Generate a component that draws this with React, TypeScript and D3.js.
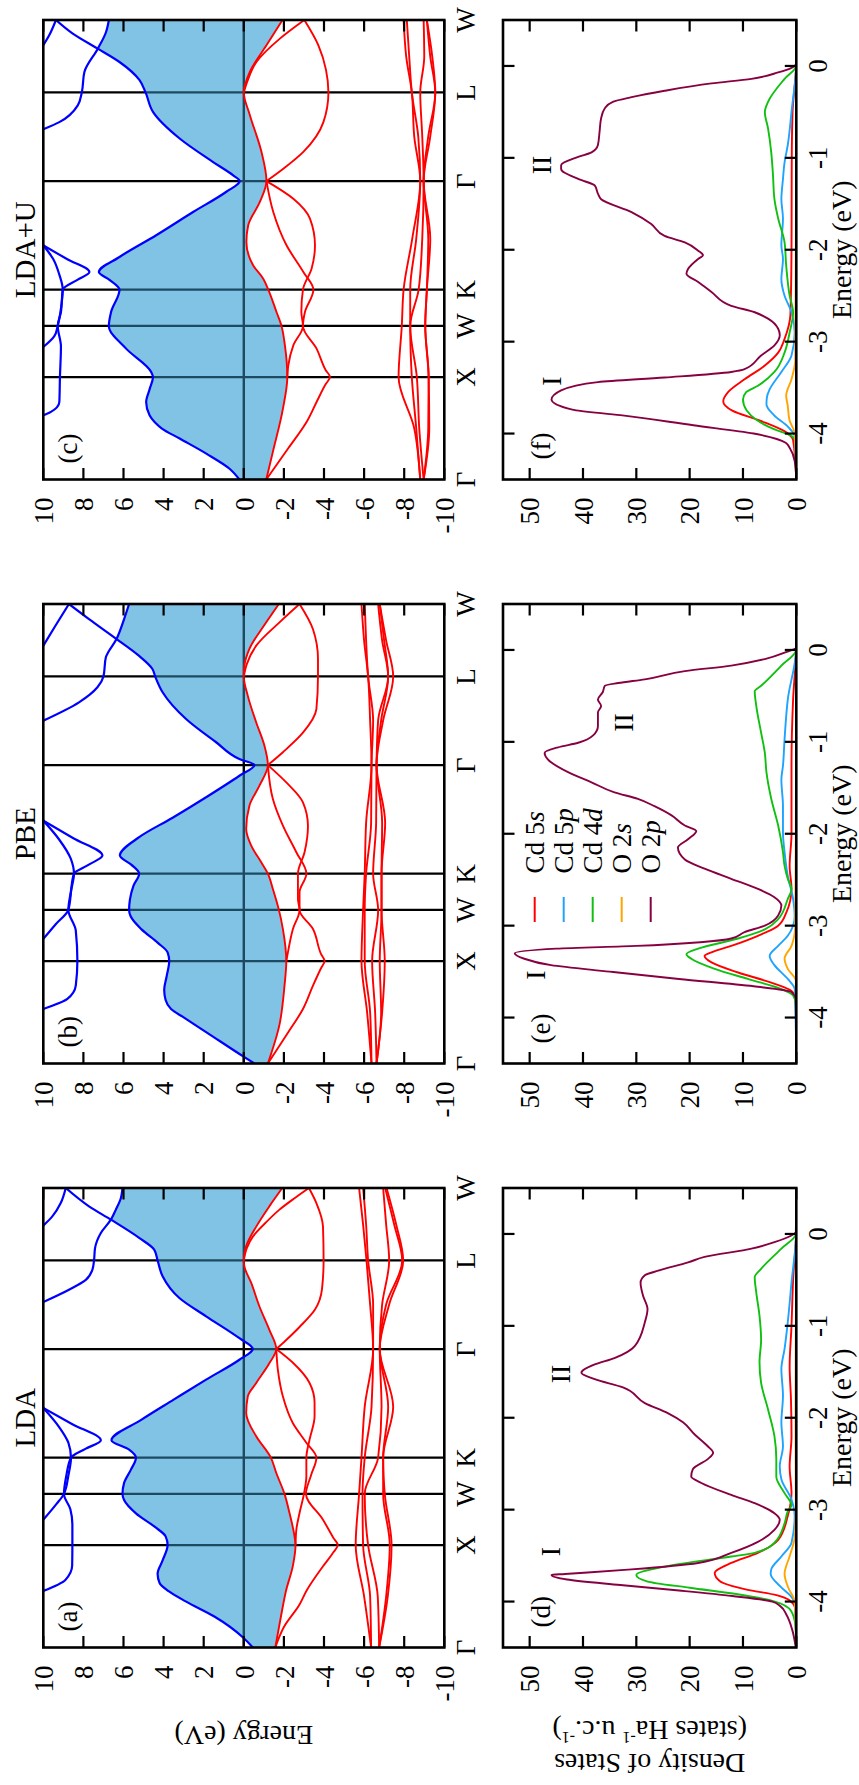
import React from 'react';
import * as d3 from 'd3';

type Pt = [number, number];

// ---------- axes, labels ----------
const kPath = [0, 1, 1.5, 1.854, 2.914, 3.78, 4.487];
const kLabels = ['Γ', 'X', 'W', 'K', 'Γ', 'L', 'W'];
const bandTicks = [10, 8, 6, 4, 2, 0, -2, -4, -6, -8, -10];
const dosTicks = [0, 10, 20, 30, 40, 50];
const dosEnergyTicks = [-4, -3, -2, -1, 0];
const methods = ['LDA', 'PBE', 'LDA+U'];
const bandTags = ['(a)', '(b)', '(c)'];
const dosTags = ['(d)', '(e)', '(f)'];
const orbitalNames = [['Cd 5', 's'], ['Cd 5', 'p'], ['Cd 4', 'd'], ['O 2', 's'], ['O 2', 'p']];
const orbitalColors = ['#ff0000', '#1ea3ff', '#10c010', '#ffa500', '#870042'];
const dKnots = [0, 0.5, 1, 1.5, 1.854, 2.35, 2.914, 3.35, 3.78, 4.13, 4.487];

// ---------- LDA bands ----------
const ldaCbA: Pt[] = [[0,-0.45],[0.1,0.05],[0.3,1.45],[0.45,2.9],[0.55,3.75],[0.63,4.2],[0.72,4.3],[0.85,4.05],[1,3.8],[1.085,3.9],[1.18,4.45],[1.31,5.38],[1.44,5.97],[1.5,6.05],[1.607,5.97],[1.737,5.63],[1.854,5.38],[1.932,5.72],[2.023,6.6],[2.225,5.1],[2.42,3.5],[2.616,1.88],[2.81,0.22],[2.914,-0.45],[3.02,0.22],[3.234,1.88],[3.41,3.2],[3.625,4.05],[3.78,4.3],[3.885,4.47],[4.0,5.22],[4.178,6.63],[4.308,7.72],[4.487,8.88]];
const ldaCbB: Pt[] = [[3.374,10],[3.494,8.72],[3.59,7.88],[3.69,7.55],[3.78,7.47],[3.9,7.42],[4.048,7.13],[4.178,6.63],[4.276,6.38],[4.39,6.13],[4.487,6.05]];
const ldaCbC: Pt[] = [[4.12,10],[4.21,9.55],[4.34,9.13],[4.487,8.88]];
const ldaCbD1: Pt[] = [[0.553,10],[0.66,8.9],[0.8,8.56],[1,8.55],[1.2,8.55],[1.35,8.65],[1.5,8.97],[1.68,8.85],[1.854,8.62],[1.94,7.9],[2.023,7.13],[2.18,8.55],[2.339,10]];
const ldaCbD2: Pt[] = [[1.248,10],[1.4,9.35],[1.5,8.97],[1.68,8.75],[1.854,8.62],[2.0,8.75],[2.15,9.2],[2.339,10]];
const ldaVbTop: Pt[] = [[0,-1.57],[0.3,-1.85],[0.55,-2.1],[0.8,-2.45],[1,-2.58],[1.085,-2.53],[1.313,-2.28],[1.5,-2.03],[1.704,-1.62],[1.854,-1.35],[2.062,-0.62],[2.29,-0.12],[2.453,-0.2],[2.583,-0.62],[2.778,-1.28],[2.914,-1.62],[3.1,-1.28],[3.33,-0.78],[3.56,-0.37],[3.72,-0.03],[3.78,0],[3.92,-0.12],[4.11,-0.62],[4.31,-1.28],[4.487,-1.92]];
const ldaVbTop2: Pt[] = [[3.78,0],[3.9,-0.15],[4.012,-0.45],[4.15,-1.1],[4.276,-1.78],[4.39,-2.55],[4.487,-3.25]];
const ldaVbS: Pt[] = [[2.914,-1.62],[3.0,-2.1],[3.13,-2.78],[3.3,-3.55],[3.5,-3.9],[3.78,-3.98],[4.11,-3.95],[4.34,-3.62],[4.487,-3.25]];
const ldaVb2: Pt[] = [[1,-2.58],[1.15,-2.62],[1.313,-2.78],[1.5,-3.0],[1.672,-3.12],[1.854,-3.12],[2.03,-3.28],[2.258,-3.53],[2.39,-3.53],[2.583,-3.28],[2.78,-2.45],[2.914,-1.62]];
const ldaVb3: Pt[] = [[0,-1.57],[0.2,-2.0],[0.42,-2.78],[0.552,-3.12],[0.793,-3.95],[0.93,-4.47],[1,-4.69],[1.07,-4.47],[1.248,-3.95],[1.5,-3.1],[1.68,-3.35],[1.854,-3.62],[2.0,-3.12],[2.19,-2.45],[2.45,-1.95],[2.71,-1.7],[2.914,-1.62]];
const ldaDBands = [
  [-6.35,-6.0,-5.58,-5.75,-5.87,-6.03,-6.45,-6.3,-6.12,-5.95,-5.75],
  [-6.35,-6.3,-5.95,-5.92,-6.03,-6.37,-6.45,-6.45,-6.2,-6.1,-5.95],
  [-6.75,-6.68,-6.2,-6.03,-6.7,-6.87,-6.78,-6.9,-7.25,-7.1,-6.95],
  [-6.75,-7.1,-7.28,-6.95,-6.95,-7.2,-6.78,-7.1,-7.9,-7.5,-7.05],
  [-6.75,-7.18,-7.37,-7.03,-6.95,-7.45,-6.78,-7.25,-7.95,-7.6,-7.12],
];

// ---------- PBE bands ----------
const pbeCbA: Pt[] = [[0,-0.53],[0.062,-0.03],[0.307,1.88],[0.45,3.0],[0.532,3.63],[0.62,3.9],[0.72,3.97],[0.85,3.85],[1,3.72],[1.085,3.8],[1.18,4.3],[1.31,5.1],[1.44,5.65],[1.5,5.72],[1.6,5.68],[1.737,5.5],[1.854,5.22],[1.94,5.6],[2.03,6.18],[2.21,5.22],[2.4,3.55],[2.6,1.88],[2.81,0.22],[2.914,-0.53],[2.973,0.22],[3.137,1.38],[3.364,2.88],[3.625,4.05],[3.78,4.42],[3.85,4.55],[3.98,5.22],[4.15,6.38],[4.34,7.72],[4.487,8.72]];
const pbeCbB: Pt[] = [[3.348,10],[3.527,8.22],[3.674,7.3],[3.78,7.0],[3.966,6.88],[4.145,6.35],[4.34,5.97],[4.487,5.72]];
const pbeCbC: Pt[] = [[4.08,10],[4.28,9.38],[4.487,8.72]];
const pbeCbD1: Pt[] = [[0.532,10],[0.63,8.8],[0.76,8.38],[1,8.3],[1.3,8.38],[1.5,8.75],[1.672,8.63],[1.854,8.47],[1.94,7.75],[2.03,7.05],[2.2,8.5],[2.372,10]];
const pbeCbD2: Pt[] = [[1.216,10],[1.36,9.38],[1.5,8.75],[1.7,8.6],[1.854,8.47],[2.0,8.63],[2.19,9.22],[2.372,10]];
const pbeVbTop: Pt[] = [[0,-1.2],[0.38,-1.78],[0.76,-2.03],[1,-2.12],[1.313,-1.95],[1.5,-1.75],[1.704,-1.45],[1.854,-1.2],[1.965,-0.87],[2.127,-0.37],[2.29,-0.12],[2.518,-0.28],[2.713,-0.78],[2.914,-1.2],[3.102,-1.03],[3.33,-0.62],[3.59,-0.2],[3.78,0],[3.885,-0.03],[4.048,-0.28],[4.308,-1.12],[4.487,-1.75]];
const pbeVbTop2: Pt[] = [[3.78,0],[3.9,-0.15],[4.08,-0.62],[4.308,-1.78],[4.487,-2.78]];
const pbeVbS: Pt[] = [[2.914,-1.2],[3.04,-1.95],[3.23,-2.95],[3.46,-3.62],[3.78,-3.7],[3.95,-3.7],[4.24,-3.45],[4.487,-2.78]];
const pbeVb2: Pt[] = [[1,-2.12],[1.085,-2.2],[1.313,-2.45],[1.5,-2.78],[1.606,-2.7],[1.854,-2.7],[2.063,-3.03],[2.32,-3.2],[2.55,-2.95],[2.745,-2.12],[2.914,-1.2]];
const pbeVb3: Pt[] = [[0,-1.2],[0.3,-2.2],[0.532,-2.95],[0.76,-3.45],[0.93,-3.85],[1,-4.03],[1.07,-3.85],[1.313,-3.45],[1.5,-2.78],[1.672,-2.78],[1.854,-3.12],[2.063,-2.62],[2.323,-1.95],[2.583,-1.45],[2.914,-1.2]];
const pbeDBands = [
  [-6.37,-6.15,-5.87,-5.95,-6.03,-6.1,-6.37,-6.3,-6.2,-6.0,-5.87],
  [-6.37,-6.3,-6.03,-6.03,-6.1,-6.35,-6.37,-6.45,-6.2,-6.1,-6.03],
  [-6.62,-6.55,-6.4,-6.7,-6.45,-6.6,-6.62,-6.7,-7.2,-6.9,-6.7],
  [-6.62,-6.85,-6.78,-6.87,-6.87,-6.9,-6.62,-6.85,-7.2,-7.0,-6.78],
  [-6.62,-6.9,-7.03,-6.87,-6.87,-7.05,-6.62,-6.95,-7.45,-7.1,-6.78],
];

// ---------- LDA+U bands ----------
const luCbA: Pt[] = [[0,0.22],[0.105,0.71],[0.25,1.85],[0.4,3.2],[0.5,4.1],[0.561,4.45],[0.627,4.7],[0.757,4.87],[0.88,4.7],[1,4.53],[1.05,4.62],[1.278,5.87],[1.5,6.73],[1.636,6.62],[1.854,6.2],[1.95,6.7],[2.026,7.23],[2.173,6.2],[2.385,4.37],[2.612,2.53],[2.81,0.87],[2.914,0.2],[2.97,0.53],[3.1,1.53],[3.33,3.2],[3.59,4.53],[3.78,4.9],[3.9,5.2],[4.077,6.2],[4.207,7.28],[4.354,8.53],[4.487,9.37]];
const luCbB: Pt[] = [[3.42,10],[3.49,9.2],[3.654,8.28],[3.78,8.08],[3.98,7.95],[4.207,7.28],[4.37,6.87],[4.487,6.73]];
const luCbC: Pt[] = [[4.24,10],[4.34,9.7],[4.487,9.37]];
const luCbD1: Pt[] = [[0.627,10],[0.66,9.62],[0.757,9.2],[1,9.17],[1.3,9.12],[1.5,9.28],[1.636,9.12],[1.854,9.03],[1.95,8.3],[2.026,7.7],[2.15,8.8],[2.287,10]];
const luCbD2: Pt[] = [[1.294,10],[1.4,9.45],[1.5,9.28],[1.7,9.1],[1.854,9.03],[2.0,9.2],[2.15,9.5],[2.287,10]];
const luVbTop: Pt[] = [[0,-1.12],[0.27,-1.45],[0.69,-1.95],[1,-2.17],[1.31,-2.05],[1.5,-1.88],[1.636,-1.63],[1.854,-1.22],[1.96,-0.97],[2.09,-0.47],[2.32,-0.13],[2.482,-0.22],[2.71,-0.8],[2.914,-1.13],[3.2,-0.88],[3.56,-0.3],[3.78,0],[3.98,-0.3],[4.24,-1.13],[4.487,-1.93]];
const luVbTop2: Pt[] = [[3.78,0],[3.9,-0.2],[4.077,-0.63],[4.305,-1.8],[4.487,-3.02]];
const luVbS: Pt[] = [[2.914,-1.13],[3.035,-1.97],[3.2,-2.97],[3.49,-3.97],[3.78,-4.22],[4.0,-4.1],[4.24,-3.72],[4.487,-3.02]];
const luVb2: Pt[] = [[1,-2.17],[1.115,-2.22],[1.31,-2.47],[1.5,-2.95],[1.636,-2.87],[1.854,-2.95],[2.059,-3.38],[2.287,-3.55],[2.547,-3.3],[2.742,-2.47],[2.914,-1.13]];
const luVb3: Pt[] = [[0,-1.12],[0.3,-2.2],[0.561,-3.13],[0.757,-3.63],[0.93,-4.08],[1,-4.3],[1.07,-4.08],[1.278,-3.63],[1.5,-2.95],[1.636,-3.05],[1.854,-3.47],[2.026,-2.97],[2.287,-2.13],[2.612,-1.47],[2.914,-1.13]];
const luDBands = [
  [-8.8,-8.5,-7.72,-7.88,-7.97,-8.4,-8.8,-8.5,-8.38,-8.1,-7.97],
  [-8.8,-8.6,-8.38,-8.3,-8.3,-8.6,-8.8,-8.7,-8.38,-8.25,-8.13],
  [-8.97,-8.75,-8.63,-8.3,-8.72,-8.9,-8.97,-8.9,-8.8,-9.0,-8.97],
  [-8.97,-9.2,-9.22,-9.05,-9.13,-9.2,-8.97,-9.2,-9.55,-9.3,-9.13],
  [-8.97,-9.25,-9.22,-9.05,-9.13,-9.3,-8.97,-9.3,-9.55,-9.4,-9.13],
];

// ---------- DOS (energy eV, states) ----------
const ldaCd5s: Pt[] = [[-4.5,0],[-4.07,0.25],[-3.99,1.2],[-3.93,3.7],[-3.87,9.3],[-3.78,14.3],[-3.69,15.3],[-3.58,12.2],[-3.47,7.2],[-3.33,3.4],[-3.07,1.6],[-2.82,0.9],[-2.53,1.25],[-2.2,0.9],[-1.8,1.0],[-1.44,1.25],[-1.0,0.9],[-0.5,0.6],[0,0.05],[0.5,0]];
const ldaCd5p: Pt[] = [[-4.5,0],[-4.03,0.25],[-3.95,0.9],[-3.83,3.1],[-3.7,4.8],[-3.65,4.7],[-3.51,2.8],[-3.36,0.9],[-3.07,0.3],[-2.89,0.9],[-2.67,2.8],[-2.53,3.1],[-2.31,2.5],[-2.05,2.8],[-1.76,2.5],[-1.47,2.8],[-1.25,2.2],[-0.96,1.6],[-0.53,0.9],[0,0.05],[0.5,0]];
const ldaCd4d: Pt[] = [[-4.5,0],[-4.25,0.2],[-4.1,1],[-4.0,4],[-3.92,11],[-3.85,20],[-3.78,28],[-3.71,30],[-3.62,24.7],[-3.51,12.2],[-3.47,7.8],[-3.36,4.1],[-3.15,2.2],[-3.02,1.6],[-2.95,0.9],[-2.82,2.2],[-2.64,3.75],[-2.45,3.75],[-2.2,4.1],[-1.91,5.3],[-1.62,6.6],[-1.4,6.9],[-1.15,6.6],[-0.89,6.9],[-0.64,7.5],[-0.47,7.8],[-0.38,6.6],[-0.16,2.8],[0,0.1],[0.5,0]];
const ldaO2s: Pt[] = [[-4.5,0],[-4.0,0.3],[-3.85,1.5],[-3.7,2.2],[-3.5,1.2],[-3.3,0.3],[-3.0,0.1],[-2,0.15],[-1,0.1],[0,0],[0.5,0]];
const ldaO2p: Pt[] = [[-4.5,0.1],[-4.3,0.8],[-4.15,1.8],[-4.05,3],[-4.0,4.5],[-3.94,12],[-3.88,22],[-3.82,33],[-3.76,43],[-3.71,45.9],[-3.7,43.4],[-3.65,30.9],[-3.58,18.4],[-3.47,12.2],[-3.35,7.2],[-3.22,4.1],[-3.11,3.1],[-3.04,4.1],[-2.93,7.8],[-2.84,12.2],[-2.71,17.8],[-2.64,19.7],[-2.56,19.4],[-2.45,16.6],[-2.38,15.6],[-2.31,16.6],[-2.18,19.1],[-2.05,21.25],[-1.95,24.1],[-1.84,28.4],[-1.67,32.5],[-1.58,37.8],[-1.51,40.3],[-1.42,37.8],[-1.35,34.1],[-1.22,30.3],[-0.96,28.4],[-0.82,27.9],[-0.67,28.75],[-0.53,29.2],[-0.45,28.4],[-0.4,25.9],[-0.31,20.3],[-0.25,17.2],[-0.16,8.4],[-0.09,4.1],[-0.02,1.0],[0.03,0],[0.5,0]];

const pbeCd5s: Pt[] = [[-4.5,0],[-3.8,0.05],[-3.71,0.9],[-3.62,4.7],[-3.51,10.9],[-3.4,15.9],[-3.33,17.2],[-3.29,15.9],[-3.22,12.2],[-3.11,7.2],[-3.0,3.4],[-2.86,1.9],[-2.6,0.9],[-2.35,1.25],[-2.0,0.9],[-1.26,0.9],[-0.54,0.6],[0,0.05],[0.5,0]];
const pbeCd5p: Pt[] = [[-4.5,0],[-3.69,0.3],[-3.58,1.6],[-3.43,4.1],[-3.33,5.0],[-3.22,3.4],[-3.11,1.6],[-2.9,0.3],[-2.71,0.6],[-2.46,1.6],[-2.2,2.2],[-1.99,2.5],[-1.7,2.5],[-1.41,2.8],[-1.26,2.5],[-0.97,2.2],[-0.54,1.6],[0,0.05],[0.5,0]];
const pbeCd4d: Pt[] = [[-4.5,0],[-3.85,0.1],[-3.76,0.6],[-3.69,2.8],[-3.58,9.1],[-3.47,15.3],[-3.36,19.7],[-3.31,20.6],[-3.25,18.4],[-3.14,10.9],[-3.04,5.9],[-2.93,3.4],[-2.71,1.6],[-2.6,0.9],[-2.49,1.6],[-2.35,2.2],[-2.2,2.5],[-1.91,3.4],[-1.62,4.7],[-1.33,5.6],[-1.12,5.9],[-0.9,6.6],[-0.61,7.5],[-0.45,7.8],[-0.39,6.6],[-0.17,2.8],[0,0.05],[0.5,0]];
const pbeO2s: Pt[] = [[-4.5,0],[-3.6,0.1],[-3.47,1.6],[-3.36,2.2],[-3.22,0.9],[-3.0,0.2],[-2,0.1],[0,0],[0.5,0]];
const pbeO2p: Pt[] = [[-4.5,0],[-3.8,0.1],[-3.72,1],[-3.66,8],[-3.58,22],[-3.5,35],[-3.43,46],[-3.36,51],[-3.3,52.8],[-3.25,45],[-3.22,30],[-3.18,18],[-3.14,12.2],[-3.07,9.7],[-3.0,5.9],[-2.89,3.4],[-2.78,2.8],[-2.69,4.1],[-2.6,7.2],[-2.49,12.2],[-2.38,17.2],[-2.28,20.9],[-2.15,22.2],[-2.06,20.3],[-1.97,18.75],[-1.91,20.9],[-1.8,23.4],[-1.7,26.6],[-1.62,29.7],[-1.55,34.1],[-1.44,38.4],[-1.33,42.8],[-1.19,46.6],[-1.12,47.2],[-1.06,44.7],[-1.01,40.9],[-0.93,38.1],[-0.83,37.2],[-0.68,37.2],[-0.61,36.6],[-0.54,37.2],[-0.46,36.3],[-0.39,35.9],[-0.36,33.4],[-0.32,28.4],[-0.23,20.9],[-0.17,12.2],[-0.1,5.9],[-0.03,2.2],[0.03,0],[0.5,0]];

const luCd5s: Pt[] = [[-4.5,0],[-4.07,0.6],[-3.99,1.8],[-3.86,6.8],[-3.75,12],[-3.65,13.7],[-3.55,12.8],[-3.41,9.7],[-3.26,5.9],[-3.12,3.4],[-2.97,2.2],[-2.7,1.1],[-2.0,0.9],[-1.0,0.85],[-0.5,0.7],[0,0.05],[0.5,0]];
const luCd5p: Pt[] = [[-4.5,0],[-4.03,0.3],[-3.93,1.5],[-3.8,4.2],[-3.68,5.6],[-3.6,5.5],[-3.52,5.0],[-3.33,2.8],[-3.15,0.9],[-2.9,0.3],[-2.68,0.9],[-2.5,2.2],[-2.32,2.8],[-2.1,2.5],[-1.95,2.8],[-1.66,2.5],[-1.45,2.8],[-1.23,2.5],[-1.05,2.2],[-0.86,1.6],[-0.5,0.9],[0,0.05],[0.5,0]];
const luCd4d: Pt[] = [[-4.5,0],[-4.1,0.1],[-4.03,0.8],[-3.95,4.3],[-3.85,7.5],[-3.75,9.3],[-3.63,10],[-3.55,9.4],[-3.48,7.2],[-3.33,4.1],[-3.12,2.2],[-2.9,1.25],[-2.68,0.6],[-2.5,1.25],[-2.17,1.9],[-1.92,2.2],[-1.66,3.4],[-1.45,4.1],[-1.16,4.4],[-0.94,4.7],[-0.68,5.3],[-0.5,5.9],[-0.39,5.3],[-0.14,2.2],[0,0.05],[0.5,0]];
const luO2s: Pt[] = [[-4.5,0],[-4.0,0.3],[-3.85,1.3],[-3.7,1.6],[-3.59,1.9],[-3.41,0.9],[-3.2,0.2],[-2,0.1],[0,0],[0.5,0]];
const luO2p: Pt[] = [[-4.5,0],[-4.3,0.3],[-4.16,1.2],[-4.1,2],[-4.0,8],[-3.91,19.3],[-3.8,33],[-3.74,42],[-3.63,45.9],[-3.53,44.1],[-3.44,37.2],[-3.39,24.7],[-3.33,12.2],[-3.3,9.7],[-3.15,6.6],[-3.04,4.1],[-2.93,3.1],[-2.86,3.4],[-2.75,5.3],[-2.68,7.8],[-2.61,12.2],[-2.46,15.9],[-2.35,18.4],[-2.26,20.6],[-2.21,20.3],[-2.1,18.4],[-2.06,17.5],[-2.01,18.4],[-1.92,20.9],[-1.85,24.7],[-1.72,27.2],[-1.59,30.9],[-1.45,36.6],[-1.39,37.2],[-1.3,37.8],[-1.23,40.9],[-1.12,44.1],[-1.08,44.1],[-0.99,40.9],[-0.94,38.4],[-0.86,37.2],[-0.72,36.9],[-0.57,36.6],[-0.46,35.9],[-0.39,34.4],[-0.34,30.9],[-0.27,24.7],[-0.19,15.9],[-0.14,8.4],[-0.07,3.4],[-0.02,0.9],[0.03,0],[0.5,0]];

// peak labels [energy, dos, text]
const ldaPeaks: [number, number, string][] = [[-3.455, 44.3, 'I'], [-1.524, 42.4, 'II']];
const pbePeaks: [number, number, string][] = [[-3.537, 47.1, 'I'], [-0.789, 30.6, 'II']];
const luPeaks: [number, number, string][] = [[-3.428, 44.1, 'I'], [-1.078, 46.0, 'II']];

// ---------- layout (landscape frame, rotated at the end) ----------
const FIG_LONG = 1785;
const PANEL_X = [137.5, 721.5, 1305.5];
const PANEL_W = 459.5;
const BAND_TOP = 43.3, BAND_BOTTOM = 444.3;
const DOS_TOP = 503, DOS_BOTTOM = 796.3;
const TICK = 11.5;
const FS = 27;
const FONT = "'Liberation Serif','DejaVu Serif','Times New Roman',serif";
const FILL = '#80c3e4';
const DARK_IN_FILL = '#1c4a60';

function BandPanel({ i, blue, red, dBands }: { i: number; blue: Pt[][]; red: Pt[][]; dBands: number[][] }) {
  const left = PANEL_X[i], right = left + PANEL_W;
  const kEnd = kPath[kPath.length - 1];
  const xs = d3.scaleLinear().domain([0, kEnd]).range([left, right]);
  const ys = d3.scaleLinear().domain([-10, 10]).range([BAND_BOTTOM, BAND_TOP]);
  const sortPts = (c: Pt[]) => c.slice().sort((a, b) => a[0] - b[0]);
  const line = d3.line<Pt>().x(d => xs(d[0])).y(d => ys(d[1])).curve(d3.curveMonotoneX);
  const dCurves: Pt[][] = dBands.map(es => es.map((e, j) => [dKnots[j], e] as Pt));
  const valence = [...red, ...dCurves];
  const pad = 40;
  const makeClip = (c: Pt[], below: boolean, id: string) => {
    const pts = sortPts(c);
    const area = d3.area<Pt>().x(d => xs(d[0])).y0(below ? BAND_BOTTOM + pad : BAND_TOP - pad).y1(d => ys(d[1])).curve(d3.curveMonotoneX);
    const k0 = pts[0][0], k1 = pts[pts.length - 1][0];
    return (
      <clipPath id={id} key={id}>
        <path d={area(pts) || ''} />
        {k0 > 0.001 && <rect x={left - pad} y={BAND_TOP - pad} width={xs(k0) - left + pad} height={BAND_BOTTOM - BAND_TOP + 2 * pad} />}
        {k1 < kEnd - 0.001 && <rect x={xs(k1)} y={BAND_TOP - pad} width={right + pad - xs(k1)} height={BAND_BOTTOM - BAND_TOP + 2 * pad} />}
      </clipPath>
    );
  };
  const ids: string[] = [];
  const clips: any[] = [];
  blue.forEach((c, j) => { const id = `gap${i}b${j}`; ids.push(id); clips.push(makeClip(c, true, id)); });
  valence.forEach((c, j) => { const id = `gap${i}r${j}`; ids.push(id); clips.push(makeClip(c, false, id)); });
  const guideLines = (stroke: string) => (
    <g stroke={stroke} strokeWidth={2.4}>
      {kPath.slice(1, -1).map((k, j) => <line key={j} x1={xs(k)} x2={xs(k)} y1={BAND_TOP} y2={BAND_BOTTOM} />)}
      <line x1={left} x2={right} y1={ys(0)} y2={ys(0)} />
    </g>
  );
  let gap: any = (
    <g>
      <rect x={left} y={BAND_TOP} width={PANEL_W} height={BAND_BOTTOM - BAND_TOP} fill={FILL} />
      {guideLines(DARK_IN_FILL)}
    </g>
  );
  for (let j = ids.length - 1; j >= 0; j--) gap = <g clipPath={`url(#${ids[j]})`}>{gap}</g>;
  const plotId = `bandplot${i}`;
  return (
    <g>
      <defs>
        <clipPath id={plotId}><rect x={left} y={BAND_TOP} width={PANEL_W} height={BAND_BOTTOM - BAND_TOP} /></clipPath>
        {clips}
      </defs>
      {guideLines('#000')}
      <g clipPath={`url(#${plotId})`}>
        {gap}
        <g fill="none" stroke="#ff0000" strokeWidth={1.9}>
          {valence.map((c, j) => <path key={j} d={line(sortPts(c)) || ''} />)}
        </g>
        <g fill="none" stroke="#0000ff" strokeWidth={2.2}>
          {blue.map((c, j) => <path key={j} d={line(sortPts(c)) || ''} />)}
        </g>
      </g>
      <g stroke="#000" strokeWidth={2.2}>
        {bandTicks.map(e => (
          <g key={e}>
            <line x1={left} x2={left + TICK} y1={ys(e)} y2={ys(e)} />
            <line x1={right - TICK} x2={right} y1={ys(e)} y2={ys(e)} />
          </g>
        ))}
      </g>
      <rect x={left} y={BAND_TOP} width={PANEL_W} height={BAND_BOTTOM - BAND_TOP} fill="none" stroke="#000" strokeWidth={2.6} />
      <g fontSize={FS} textAnchor="end">
        {bandTicks.map(e => <text key={e} x={left - 18} y={ys(e)} dy="0.36em">{String(e)}</text>)}
      </g>
      <g fontSize={FS} textAnchor="middle">
        {kPath.map((k, j) => <text key={j} x={xs(k)} y={475}>{kLabels[j]}</text>)}
      </g>
      <text x={(left + right) / 2} y={35} fontSize={29} textAnchor="middle">{methods[i]}</text>
      <text x={left + 16} y={77} fontSize={FS}>{bandTags[i]}</text>
    </g>
  );
}

function DosPanel({ i, series, peaks, legend }: { i: number; series: Pt[][]; peaks: [number, number, string][]; legend: boolean }) {
  const left = PANEL_X[i], right = left + PANEL_W;
  const xs = d3.scaleLinear().domain([-4.5, 0.5]).range([left, right]);
  const ys = d3.scaleLinear().domain([0, 55]).range([DOS_BOTTOM, DOS_TOP]);
  const line = d3.line<Pt>().x(d => xs(d[0])).y(d => ys(d[1])).curve(d3.curveMonotoneX);
  const plotId = `dosplot${i}`;
  return (
    <g>
      <defs>
        <clipPath id={plotId}><rect x={left} y={DOS_TOP} width={PANEL_W} height={DOS_BOTTOM - DOS_TOP} /></clipPath>
      </defs>
      <g clipPath={`url(#${plotId})`} fill="none" strokeWidth={1.9}>
        {series.map((s, j) => <path key={j} d={line(s) || ''} stroke={orbitalColors[j]} />)}
      </g>
      <g stroke="#000" strokeWidth={2.2}>
        {dosTicks.map(v => (
          <g key={v}>
            <line x1={left} x2={left + TICK} y1={ys(v)} y2={ys(v)} />
            <line x1={right - TICK} x2={right} y1={ys(v)} y2={ys(v)} />
          </g>
        ))}
        {dosEnergyTicks.map(e => (
          <g key={e}>
            <line x1={xs(e)} x2={xs(e)} y1={DOS_BOTTOM} y2={DOS_BOTTOM - TICK} />
            <line x1={xs(e)} x2={xs(e)} y1={DOS_TOP} y2={DOS_TOP + TICK} />
          </g>
        ))}
      </g>
      <rect x={left} y={DOS_TOP} width={PANEL_W} height={DOS_BOTTOM - DOS_TOP} fill="none" stroke="#000" strokeWidth={2.6} />
      <g fontSize={FS} textAnchor="end">
        {dosTicks.map(v => <text key={v} x={left - 18} y={ys(v)} dy="0.36em">{String(v)}</text>)}
      </g>
      <g fontSize={FS} textAnchor="middle">
        {dosEnergyTicks.map(e => <text key={e} x={xs(e)} y={827}>{String(e)}</text>)}
      </g>
      <text x={(left + right) / 2} y={851} fontSize={28} textAnchor="middle">Energy (eV)</text>
      <text x={left + 20} y={550} fontSize={FS}>{dosTags[i]}</text>
      <g fontSize={28} textAnchor="middle">
        {peaks.map((p, j) => <text key={j} x={xs(p[0])} y={ys(p[1])}>{p[2]}</text>)}
      </g>
      {legend && (
        <g fontSize={FS}>
          {orbitalNames.map((n, j) => {
            const yy = DOS_TOP + 31.7 + j * 29;
            return (
              <g key={j}>
                <line x1={left + 141.5} x2={left + 166.5} y1={yy} y2={yy} stroke={orbitalColors[j]} strokeWidth={2} />
                <text x={left + 190} y={yy} dy="0.35em">{n[0]}<tspan fontStyle="italic">{n[1]}</tspan></text>
              </g>
            );
          })}
        </g>
      )}
    </g>
  );
}

export default function App() {
  const bandSets = [
    { blue: [ldaCbA, ldaCbB, ldaCbC, ldaCbD1, ldaCbD2], red: [ldaVbTop, ldaVbTop2, ldaVbS, ldaVb2, ldaVb3], d: ldaDBands },
    { blue: [pbeCbA, pbeCbB, pbeCbC, pbeCbD1, pbeCbD2], red: [pbeVbTop, pbeVbTop2, pbeVbS, pbeVb2, pbeVb3], d: pbeDBands },
    { blue: [luCbA, luCbB, luCbC, luCbD1, luCbD2], red: [luVbTop, luVbTop2, luVbS, luVb2, luVb3], d: luDBands },
  ];
  const dosSets = [
    { s: [ldaCd5s, ldaCd5p, ldaCd4d, ldaO2s, ldaO2p], p: ldaPeaks },
    { s: [pbeCd5s, pbeCd5p, pbeCd4d, pbeO2s, pbeO2p], p: pbePeaks },
    { s: [luCd5s, luCd5p, luCd4d, luO2s, luO2p], p: luPeaks },
  ];
  return (
    <svg width={859} height={1785} style={{ position: 'absolute', left: 0, top: 0, display: 'block' }} fontFamily={FONT}>
      <rect width={859} height={1785} fill="#fff" />
      <g transform={`translate(0,${FIG_LONG}) rotate(-90)`}>
        {bandSets.map((b, i) => <BandPanel key={i} i={i} blue={b.blue} red={b.red} dBands={b.d} />)}
        {dosSets.map((d, i) => <DosPanel key={i} i={i} series={d.s} peaks={d.p} legend={i === 1} />)}
        <text transform={`translate(59,${(BAND_TOP + BAND_BOTTOM) / 2}) rotate(-90)`} fontSize={28} textAnchor="middle">Energy (eV)</text>
        <text transform={`translate(31,${(DOS_TOP + DOS_BOTTOM) / 2}) rotate(-90)`} fontSize={28} textAnchor="middle">Density of States</text>
        <text transform={`translate(64,${(DOS_TOP + DOS_BOTTOM) / 2}) rotate(-90)`} fontSize={28} textAnchor="middle">
          (states Ha<tspan fontSize={16} dy={-11}>-1</tspan><tspan dy={11}> u.c.</tspan><tspan fontSize={16} dy={-11}>-1</tspan><tspan dy={11}>)</tspan>
        </text>
      </g>
    </svg>
  );
}
